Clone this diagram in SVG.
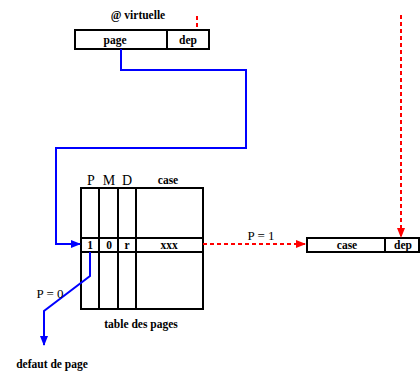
<svg xmlns="http://www.w3.org/2000/svg" width="420" height="372" viewBox="0 0 420 372">
<style>
.box{fill:#fff;stroke:#000;stroke-width:2}
.ln{stroke:#000;stroke-width:2;fill:none}
.t{font-family:"Liberation Serif",serif;font-weight:bold;font-size:11.5px;fill:#000;text-anchor:middle}
.h{font-family:"Liberation Serif",serif;font-size:14px;fill:#000;text-anchor:middle}
.l{font-family:"Liberation Serif",serif;font-size:13px;fill:#000;text-anchor:middle}
.blue{stroke:#0000ff;stroke-width:2;fill:none}
.red{stroke:#ff0000;stroke-width:2;fill:none;stroke-dasharray:4,3}
</style>
<defs>
<marker id="ab" markerWidth="10" markerHeight="8" refX="9" refY="4" orient="auto" markerUnits="userSpaceOnUse"><path d="M0,0 L10,4 L0,8 Z" fill="#0000ff"/></marker>
<marker id="ar" markerWidth="10" markerHeight="8" refX="9" refY="4" orient="auto" markerUnits="userSpaceOnUse"><path d="M0,0 L10,4 L0,8 Z" fill="#ff0000"/></marker>
</defs>
<g id="vaddr">
<text class="t" x="138" y="19">@ virtuelle</text>
<rect class="box" x="75" y="30" width="134" height="19"/>
<line class="ln" x1="167" y1="30" x2="167" y2="49"/>
<text class="t" x="115" y="44">page</text>
<text class="t" x="188" y="44">dep</text>
</g>
<g id="table">
<text class="h" x="91" y="185">P</text>
<text class="h" x="109" y="185">M</text>
<text class="h" x="127" y="185">D</text>
<text class="t" x="168" y="184">case</text>
<rect class="box" x="81" y="188" width="122" height="121"/>
<line class="ln" x1="99" y1="188" x2="99" y2="309"/>
<line class="ln" x1="118" y1="188" x2="118" y2="309"/>
<line class="ln" x1="136" y1="188" x2="136" y2="309"/>
<line class="ln" x1="81" y1="238" x2="203" y2="238"/>
<line class="ln" x1="81" y1="252" x2="203" y2="252"/>
<text class="t" x="90" y="249">1</text>
<text class="t" x="109" y="249">0</text>
<text class="t" x="127" y="249">r</text>
<text class="t" x="169" y="249">xxx</text>
<text class="t" x="141" y="328">table des pages</text>
</g>
<g id="paddr">
<rect class="box" x="307" y="238" width="112" height="14"/>
<line class="ln" x1="385" y1="238" x2="385" y2="252"/>
<text class="t" x="347" y="249">case</text>
<text class="t" x="403" y="249">dep</text>
</g>
<g id="fault">
<text class="t" x="52" y="368">defaut de page</text>
</g>
<g id="connectors">
<polyline class="blue" points="121,49 121,70 246,70 246,148 56,148 56,244 80,244" marker-end="url(#ab)"/>
<polyline class="blue" points="90,252 90,276 44,311 44,345" marker-end="url(#ab)"/>
<text class="l" x="50" y="298">P = 0</text>
<line class="red" x1="197" y1="16" x2="197" y2="30"/>
<line class="red" x1="203" y1="244" x2="305" y2="244" marker-end="url(#ar)"/>
<text class="l" x="261" y="240">P = 1</text>
<line class="red" x1="401" y1="15" x2="401" y2="237" marker-end="url(#ar)"/>
</g>
</svg>
